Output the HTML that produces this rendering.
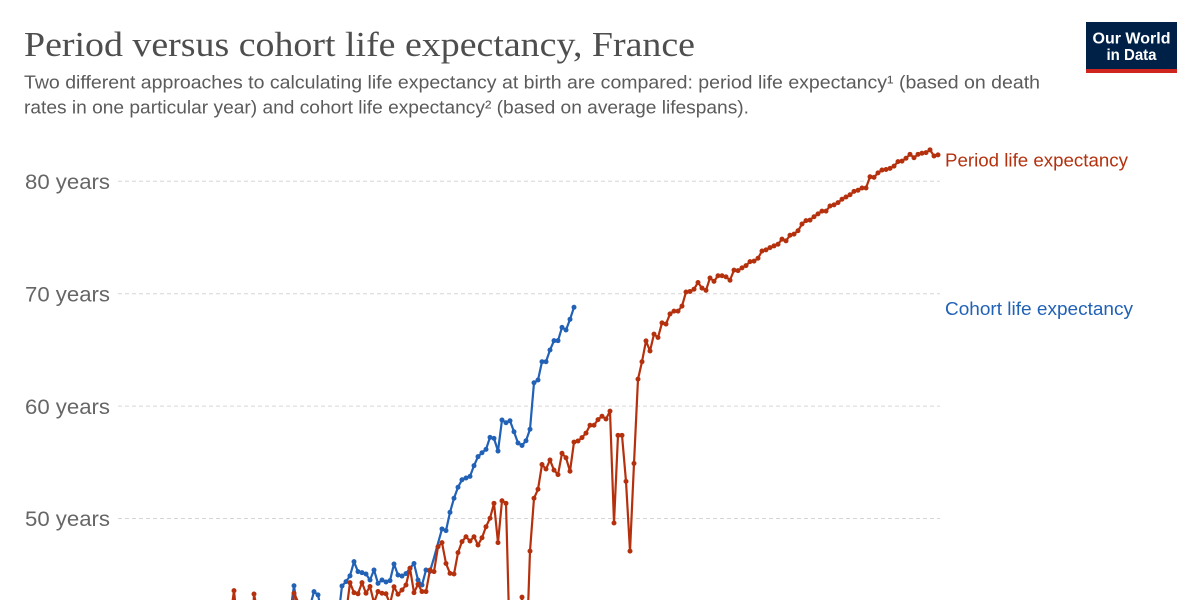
<!DOCTYPE html>
<html><head><meta charset="utf-8"><style>
html,body{margin:0;padding:0;background:#fff;width:1200px;height:600px;overflow:hidden;}
svg{display:block;overflow:hidden;}
</style></head><body>
<svg width="1200" height="600" viewBox="0 0 1200 600" xmlns="http://www.w3.org/2000/svg">
<rect width="1200" height="600" fill="#fff"/>
<text x="24" y="56" font-family="Liberation Serif, serif" font-size="35" fill="#4e4e4e" textLength="671" lengthAdjust="spacingAndGlyphs">Period versus cohort life expectancy, France</text>
<text x="24" y="88.5" font-family="Liberation Sans, sans-serif" font-size="18.5" fill="#5b5b5b" textLength="1016" lengthAdjust="spacingAndGlyphs">Two different approaches to calculating life expectancy at birth are compared: period life expectancy¹ (based on death</text>
<text x="24" y="113.5" font-family="Liberation Sans, sans-serif" font-size="18.5" fill="#5b5b5b" textLength="725" lengthAdjust="spacingAndGlyphs">rates in one particular year) and cohort life expectancy² (based on average lifespans).</text>

<rect x="1086" y="22" width="91" height="51" fill="#002147"/>
<rect x="1086" y="69" width="91" height="4" fill="#ce261e"/>
<text x="1131.5" y="43.5" text-anchor="middle" font-family="Liberation Sans, sans-serif" font-weight="bold" font-size="16" fill="#fff" textLength="78" lengthAdjust="spacingAndGlyphs">Our World</text>
<text x="1131.5" y="60" text-anchor="middle" font-family="Liberation Sans, sans-serif" font-weight="bold" font-size="16" fill="#fff" textLength="50" lengthAdjust="spacingAndGlyphs">in Data</text>

<g stroke="#d6d6d6" stroke-width="1" stroke-dasharray="4,3">
<line x1="118" y1="181.3" x2="940" y2="181.3"/>
<line x1="118" y1="293.7" x2="940" y2="293.7"/>
<line x1="118" y1="406.1" x2="940" y2="406.1"/>
<line x1="118" y1="518.5" x2="940" y2="518.5"/>
</g>
<g font-family="Liberation Sans, sans-serif" font-size="21" fill="#666">
<text x="25" y="189" textLength="85" lengthAdjust="spacingAndGlyphs">80 years</text>
<text x="25" y="301.4" textLength="85" lengthAdjust="spacingAndGlyphs">70 years</text>
<text x="25" y="413.8" textLength="85" lengthAdjust="spacingAndGlyphs">60 years</text>
<text x="25" y="526.2" textLength="85" lengthAdjust="spacingAndGlyphs">50 years</text>
</g>

<g transform="matrix(4 0 0 -11.24 -7146 1080.5)" fill="none" stroke-linejoin="round" stroke-linecap="round">
<path vector-effect="non-scaling-stroke" stroke="#2161b6" stroke-width="2.2" d="M1859.496 42.75 1860 44.02 1860.504 42.75M1864.426 42.75 1865 43.49 1866 43.2 1866.265 42.75M1871.583 42.75 1872 44 1873 44.38 1874 44.9 1875 46.16 1876 45.27 1877 45.18 1878 45.06 1879 44.53 1880 45.42 1881 44.23 1882 44.53 1883 44.35 1884 44.47 1885 45.95 1886 44.97 1887 44.88 1888 45.1 1889 45.57 1890 46 1891 44.53 1892 44.08 1893 45.42 1894 45.3 1895 46.5 1896 47.8 1897 49.07 1898 48.92 1899 50.55 1900 51.8 1901 52.78 1902 53.45 1903 53.6 1904 53.75 1905 54.7 1906 55.5 1907 55.85 1908 56.15 1909 57.22 1910 57.13 1911 56 1912 58.76 1913 58.52 1914 58.7 1915 57.72 1916 56.72 1917 56.5 1918 56.92 1919 57.94 1920 62.08 1921 62.32 1922 63.95 1923 63.95 1924 64.99 1925 65.82 1926 65.82 1927 67 1928 66.77 1929 67.72 1930 68.79"/>
<path vector-effect="non-scaling-stroke" stroke="#2161b6" stroke-width="5" d="M1860 44.02h.001M1865 43.49h.001M1866 43.2h.001M1872 44h.001M1873 44.38h.001M1874 44.9h.001M1875 46.16h.001M1876 45.27h.001M1877 45.18h.001M1878 45.06h.001M1879 44.53h.001M1880 45.42h.001M1881 44.23h.001M1882 44.53h.001M1883 44.35h.001M1884 44.47h.001M1885 45.95h.001M1886 44.97h.001M1887 44.88h.001M1888 45.1h.001M1889 45.57h.001M1890 46h.001M1891 44.53h.001M1892 44.08h.001M1893 45.42h.001M1894 45.3h.001M1897 49.07h.001M1898 48.92h.001M1899 50.55h.001M1900 51.8h.001M1901 52.78h.001M1902 53.45h.001M1903 53.6h.001M1904 53.75h.001M1905 54.7h.001M1906 55.5h.001M1907 55.85h.001M1908 56.15h.001M1909 57.22h.001M1910 57.13h.001M1911 56h.001M1912 58.76h.001M1913 58.52h.001M1914 58.7h.001M1915 57.72h.001M1916 56.72h.001M1917 56.5h.001M1918 56.92h.001M1919 57.94h.001M1920 62.08h.001M1921 62.32h.001M1922 63.95h.001M1923 63.95h.001M1924 64.99h.001M1925 65.82h.001M1926 65.82h.001M1927 67h.001M1928 66.77h.001M1929 67.72h.001M1930 68.79h.001"/>

<path vector-effect="non-scaling-stroke" stroke="#b5310e" stroke-width="2.2" d="M1844.678 42.75 1845 43.58 1845.232 42.75M1849.936 42.75 1850 43.28 1850.298 42.75M1859.888 42.75 1860 43.35 1860.8 42.75M1873.448 42.75 1874 44.29 1875 43.4 1876 43.3 1877 44.29 1878 43.35 1879 43.95 1879.828 42.75M1880.25 42.75 1881 43.5 1882 43.35 1883 43.3 1883.611 42.75M1884.229 42.75 1885 43.93 1886 43.26 1887 43.64 1888 44.08 1889 45.57 1890 43.4 1891 44.15 1892 43.5 1893 43.5 1894 45.42 1895 45.27 1896 47.49 1897 47.85 1898 46 1899 45.12 1900 45.06 1901 46.96 1902 47.94 1903 48.38 1904 48 1905 48.38 1906 47.64 1907 48.29 1908 49.27 1909 50.02 1910 51.35 1911 47.85 1912 51.58 1913 51.35 1913.644 42.75M1916.95 42.75 1917 43 1917.04 42.75M1918.578 42.75 1919 47.1 1920 51.8 1921 52.6 1922 54.8 1923 54.4 1924 55.2 1925 54.3 1926 53.9 1927 55.8 1928 55.4 1929 54.2 1930 56.8 1931 56.9 1932 57.2 1933 57.6 1934 58.3 1935 58.3 1936 58.8 1937 59.1 1938 58.85 1939 59.55 1940 49.6 1941 57.4 1942 57.4 1943 53.3 1944 47.1 1945 54.9 1946 62.4 1947 63.95 1948 65.8 1949 64.9 1950 66.4 1951 66.1 1952 67.4 1953 67.3 1954 68.2 1955 68.45 1956 68.45 1957 68.9 1958 70.15 1959 70.2 1960 70.4 1961 71 1962 70.5 1963 70.3 1964 71.4 1965 71.1 1966 71.6 1967 71.6 1968 71.5 1969 71.2 1970 72.1 1971 72.05 1972 72.3 1973 72.5 1974 72.85 1975 72.9 1976 73.15 1977 73.8 1978 73.9 1979 74.1 1980 74.25 1981 74.4 1982 74.85 1983 74.7 1984 75.2 1985 75.3 1986 75.6 1987 76.2 1988 76.5 1989 76.55 1990 76.85 1991 77.1 1992 77.35 1993 77.35 1994 77.8 1995 77.9 1996 78.1 1997 78.4 1998 78.6 1999 78.8 2000 79.1 2001 79.2 2002 79.4 2003 79.4 2004 80.4 2005 80.35 2006 80.75 2007 81 2008 81.05 2009 81.15 2010 81.35 2011 81.75 2012 81.8 2013 82.05 2014 82.4 2015 82.1 2016 82.4 2017 82.5 2018 82.55 2019 82.8 2020 82.25 2021 82.35"/>
<path vector-effect="non-scaling-stroke" stroke="#b5310e" stroke-width="5" d="M1845 43.58h.001M1850 43.28h.001M1860 43.35h.001M1874 44.29h.001M1875 43.4h.001M1876 43.3h.001M1877 44.29h.001M1878 43.35h.001M1879 43.95h.001M1881 43.5h.001M1882 43.35h.001M1883 43.3h.001M1885 43.93h.001M1886 43.26h.001M1887 43.64h.001M1888 44.08h.001M1889 45.57h.001M1890 43.4h.001M1891 44.15h.001M1892 43.5h.001M1893 43.5h.001M1894 45.42h.001M1895 45.27h.001M1896 47.49h.001M1897 47.85h.001M1898 46h.001M1899 45.12h.001M1900 45.06h.001M1901 46.96h.001M1902 47.94h.001M1903 48.38h.001M1904 48h.001M1905 48.38h.001M1906 47.64h.001M1907 48.29h.001M1908 49.27h.001M1909 50.02h.001M1910 51.35h.001M1911 47.85h.001M1912 51.58h.001M1913 51.35h.001M1917 43h.001M1919 47.1h.001M1920 51.8h.001M1921 52.6h.001M1922 54.8h.001M1923 54.4h.001M1924 55.2h.001M1925 54.3h.001M1926 53.9h.001M1927 55.8h.001M1928 55.4h.001M1929 54.2h.001M1930 56.8h.001M1931 56.9h.001M1932 57.2h.001M1933 57.6h.001M1934 58.3h.001M1935 58.3h.001M1936 58.8h.001M1937 59.1h.001M1938 58.85h.001M1939 59.55h.001M1940 49.6h.001M1941 57.4h.001M1942 57.4h.001M1943 53.3h.001M1944 47.1h.001M1945 54.9h.001M1946 62.4h.001M1947 63.95h.001M1948 65.8h.001M1949 64.9h.001M1950 66.4h.001M1951 66.1h.001M1952 67.4h.001M1953 67.3h.001M1954 68.2h.001M1955 68.45h.001M1956 68.45h.001M1957 68.9h.001M1958 70.15h.001M1959 70.2h.001M1960 70.4h.001M1961 71h.001M1962 70.5h.001M1963 70.3h.001M1964 71.4h.001M1965 71.1h.001M1966 71.6h.001M1967 71.6h.001M1968 71.5h.001M1969 71.2h.001M1970 72.1h.001M1971 72.05h.001M1972 72.3h.001M1973 72.5h.001M1974 72.85h.001M1975 72.9h.001M1976 73.15h.001M1977 73.8h.001M1978 73.9h.001M1979 74.1h.001M1980 74.25h.001M1981 74.4h.001M1982 74.85h.001M1983 74.7h.001M1984 75.2h.001M1985 75.3h.001M1986 75.6h.001M1987 76.2h.001M1988 76.5h.001M1989 76.55h.001M1990 76.85h.001M1991 77.1h.001M1992 77.35h.001M1993 77.35h.001M1994 77.8h.001M1995 77.9h.001M1996 78.1h.001M1997 78.4h.001M1998 78.6h.001M1999 78.8h.001M2000 79.1h.001M2001 79.2h.001M2002 79.4h.001M2003 79.4h.001M2004 80.4h.001M2005 80.35h.001M2006 80.75h.001M2007 81h.001M2008 81.05h.001M2009 81.15h.001M2010 81.35h.001M2011 81.75h.001M2012 81.8h.001M2013 82.05h.001M2014 82.4h.001M2015 82.1h.001M2016 82.4h.001M2017 82.5h.001M2018 82.55h.001M2019 82.8h.001M2020 82.25h.001M2021 82.35h.001"/>
</g>

<text x="945" y="166.5" font-family="Liberation Sans, sans-serif" font-size="18" fill="#b5310e" textLength="183" lengthAdjust="spacingAndGlyphs">Period life expectancy</text>
<text x="945" y="315" font-family="Liberation Sans, sans-serif" font-size="18" fill="#2161b6" textLength="188" lengthAdjust="spacingAndGlyphs">Cohort life expectancy</text>
</svg>
</body></html>
